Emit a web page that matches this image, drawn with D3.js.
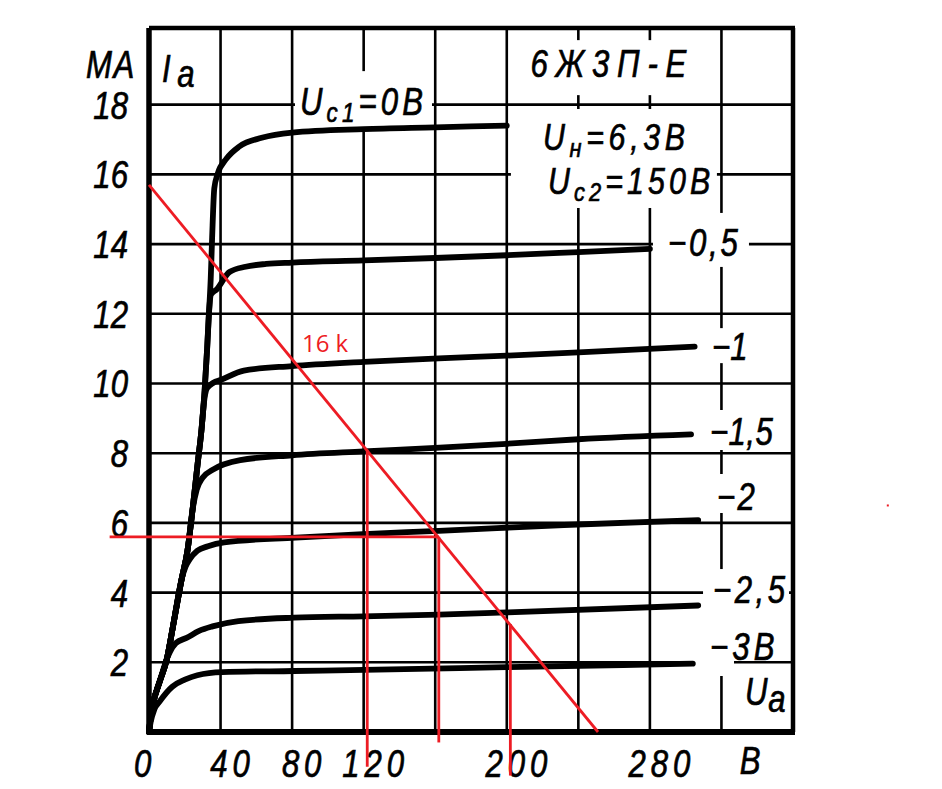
<!DOCTYPE html>
<html>

<head>
    <meta charset="utf-8">
    <title>6Ж3П-Е</title>
    <script src="https://d3js.org/d3.v7.min.js"></script>
    <style>
        body {
            margin: 0;
            background: #fff;
        }

        .grid line {
            stroke: #000;
            stroke-width: 2.6;
        }

        .mask {
            fill: #fff;
        }

        .curve {
            fill: none;
            stroke: #000;
            stroke-width: 5.8;
            stroke-linecap: round;
            stroke-linejoin: round;
        }

        /* drafting lettering: Arial-like italic squeezed to a narrow face */
        .lbl {
            font-family: "Liberation Sans", Arial, sans-serif;
            font-style: italic;
            font-size: 38px;
            fill: #000;
            stroke: #000;
            stroke-width: 0.7px;
        }

        .red {
            fill: none;
            stroke: #ed1c24;
            stroke-width: 2.8;
        }

        .red-label {
            font-family: "Open Sans", sans-serif;
            font-size: 24px;
            fill: #ed1c24;
        }
    </style>
</head>

<body>
    <div id="graph"></div>
    <script>
        // anode characteristics Ia = f(Ua), pairs [Ua in V, Ia in mA]
        const curve0 = [[0, 0], [1, 0.45], [2.2, 0.8], [6, 1.45], [10, 2.1], [13.3, 3.0], [18.3, 4.4], [21.5, 5.2], [24.4, 6.4],
            [27.2, 7.7], [29.4, 8.7], [31.1, 9.8], [32.5, 11.0], [33.5, 12.0], [34.5, 13.0], [35.3, 14.2], [36.5, 15.6],
            [38.3, 16.0], [43.3, 16.45], [50.5, 16.8], [63, 17.05], [80, 17.2], [120, 17.3], [160, 17.35], [200, 17.4]];
        const curveM05 = [[0, 0], [1, 0.45], [2.2, 0.8], [6, 1.45], [10, 2.1], [13.3, 3.0], [18.3, 4.4], [21.5, 5.2], [24.4, 6.4],
            [27.2, 7.7], [29.4, 8.7], [31.1, 9.8], [32.5, 11.0], [33.5, 12.0], [34.6, 12.55], [37.8, 12.7], [45, 13.2],
            [54, 13.35], [65.5, 13.43], [80, 13.47], [120, 13.53], [160, 13.6], [200, 13.68], [240, 13.77], [280, 13.86]];
        const curveM1 = [[0, 0], [1, 0.45], [2.2, 0.8], [6, 1.45], [10, 2.1], [13.3, 3.0], [18.3, 4.4], [21.5, 5.2], [24.4, 6.4],
            [27.2, 7.7], [29.4, 8.7], [30.6, 9.4], [32.4, 9.86], [36, 10.02], [40, 10.1], [53, 10.37], [80, 10.5],
            [120, 10.62], [162, 10.72], [200, 10.8], [243, 10.9], [305, 11.06]];
        const curveM15 = [[0, 0], [1, 0.45], [2.2, 0.8], [6, 1.45], [10, 2.1], [13.3, 3.0], [18.3, 4.4], [21.5, 5.2], [24.4, 6.4],
            [26.7, 6.96], [30, 7.3], [35.5, 7.52], [51, 7.8], [80, 7.94], [120, 8.05], [160, 8.15], [200, 8.27],
            [240, 8.4], [303, 8.54]];
        const curveM2 = [[0, 0], [1, 0.45], [2.2, 0.8], [6, 1.45], [10, 2.1], [13.3, 3.0], [18.3, 4.4], [20.5, 4.75],
            [22.8, 4.96], [27, 5.2], [33, 5.33], [42, 5.44], [82, 5.58], [120, 5.68], [162, 5.77], [232, 5.94], [307, 6.08]];
        const curveM25 = [[0, 0], [1, 0.45], [2.2, 0.8], [6, 1.45], [10, 2.1], [11.7, 2.3], [15, 2.55], [21, 2.7], [28, 2.9],
            [35.5, 3.03], [50, 3.18], [81, 3.28], [120, 3.32], [162, 3.37], [200, 3.43], [307, 3.63]];
        const curveM3 = [[0, 0], [1, 0.3], [3, 0.65], [6, 0.88], [13, 1.3], [20, 1.5], [27, 1.63], [41, 1.72], [81, 1.75],
            [120, 1.78], [200, 1.86], [304, 1.96]];
        const curves = [curve0, curveM05, curveM1, curveM15, curveM2, curveM25, curveM3];

        // grid and ticks
        const uaMax = 360;
        const iaMax = 20.2;   // top edge of the printed frame
        const gridVoltages = [40, 80, 120, 160, 200, 240, 280, 320];
        const gridCurrents = [2, 4, 6, 8, 10, 12, 14, 16, 18];
        const xTickValues = [0, 40, 80, 120, 200, 280];
        const yTickValues = [2, 4, 6, 8, 10, 12, 14, 16, 18];

        // red load line (16 k) added on top of the sheet
        const loadLine = [[0, 15.7], [251, 0]];
        const opVoltages = [122, 162, 202];
        const opCurrents = [8.1, 5.6, 3.1];
        const opBottoms = [-1.0, -0.3, -1.25];
        const opLevel = [[-22, 5.6], [162, 5.6]];
        const strayDot = [[413, 6.5]];

        const margin = { top: 28, right: 149, bottom: 57, left: 149 },
            width = 942 - margin.left - margin.right,
            height = 789 - margin.top - margin.bottom;
        const squeeze = 0.82;

        const x = d3.scaleLinear().domain([0, uaMax]).range([0, width]);
        const y = d3.scaleLinear().domain([0, iaMax]).range([height, 0]);

        const svg = d3.select("#graph").append("svg")
            .attr("width", 942)
            .attr("height", 789)
            .style("display", "block");

        const g = svg.append("g")
            .attr("transform", "translate(" + margin.left + "," + margin.top + ")");

        // grid
        const grid = g.append("g").attr("class", "grid");
        grid.selectAll(".v").data(gridVoltages).enter().append("line")
            .attr("x1", d => x(d)).attr("x2", d => x(d))
            .attr("y1", y(0)).attr("y2", y(iaMax));
        grid.selectAll(".h").data(gridCurrents).enter().append("line")
            .attr("x1", x(0)).attr("x2", x(uaMax))
            .attr("y1", d => y(d)).attr("y2", d => y(d));

        // labels of the sheet: anchor in data units, white patch (px) relative to the anchor
        // "_" = small subscript, "~" = full size, set a little lower
        const labels = [
            { parts: ["6Ж3П-Е"], ua: 259, ia: 18.79, anchor: "middle", ls: 9.5, mask: [-100, -37, 106, 18] },
            { parts: ["U", "_н", "=6,3В"], ua: 220.2, ia: 16.7, ls: 5.7, size: 37, mask: [-32, -41, 174, 58] },
            { parts: ["U", "_с2", "=150В"], ua: 223, ia: 15.44, ls: 5, size: 37 },
            { parts: ["U", "_с1", "=0В"], ua: 84.4, ia: 17.7, ls: 5, mask: [-5, -44, 132, 12] },
            { parts: ["−0,5"], ua: 290.1, ia: 13.66, ls: 3.4, mask: [-15, -43, 81, 11] },
            { parts: ["−1"], ua: 314.7, ia: 10.67, ls: 0, mask: [0, -32, 22, 3] },
            { parts: ["−1,5"], ua: 313.6, ia: 8.235, ls: 0.5, mask: [0, -35, 24, 5] },
            { parts: ["−2"], ua: 317.5, ia: 6.37, ls: 3, mask: [-8, -36, 14, 3] },
            { parts: ["−2,5"], ua: 315.3, ia: 3.7, ls: 4.3, mask: [-10, -34, 76, 4] },
            { parts: ["−3В"], ua: 313.6, ia: 2.066, ls: 5, mask: [-20, -53, 24, 16] },
            { parts: ["U", "~а"], ua: 333.2, ia: 0.775, ls: 1, sub: 7 },
            { parts: ["I", "~а"], ua: 7.3, ia: 18.65, ls: 8, sub: 5 }
        ];

        const masks = g.append("g");
        labels.filter(d => d.mask).forEach(d => {
            const ax = x(d.ua), ay = y(d.ia);
            masks.append("rect").attr("class", "mask")
                .attr("x", ax + d.mask[0]).attr("y", ay + d.mask[1])
                .attr("width", d.mask[2] - d.mask[0]).attr("height", d.mask[3] - d.mask[1]);
        });

        // frame
        g.append("line").attr("stroke", "#000").attr("stroke-width", 5.5)
            .attr("x1", x(0)).attr("x2", x(0)).attr("y1", y(0) + 2.5).attr("y2", y(iaMax));
        g.append("line").attr("stroke", "#000").attr("stroke-width", 6)
            .attr("x1", x(0)).attr("x2", x(uaMax) + 2).attr("y1", y(0)).attr("y2", y(0));
        g.append("line").attr("stroke", "#000").attr("stroke-width", 4.5)
            .attr("x1", x(0)).attr("x2", x(uaMax) + 2).attr("y1", y(iaMax)).attr("y2", y(iaMax));
        g.append("line").attr("stroke", "#000").attr("stroke-width", 4.5)
            .attr("x1", x(uaMax)).attr("x2", x(uaMax)).attr("y1", y(iaMax)).attr("y2", y(0));

        // characteristics
        const line = d3.line()
            .x(d => x(d[0]))
            .y(d => y(d[1]))
            .curve(d3.curveMonotoneX);

        g.append("g").selectAll("path").data(curves).enter().append("path")
            .attr("class", "curve")
            .attr("d", line);

        function addText(parts, px, py, opts) {
            const t = g.append("text").attr("class", "lbl")
                .attr("transform", "translate(" + px + "," + py + ") scale(" + squeeze + ",1)")
                .attr("text-anchor", opts.anchor || "start")
                .style("letter-spacing", (opts.ls || 0) + "px");
            if (opts.size) t.style("font-size", opts.size + "px");
            const drop = opts.sub || 7;
            let shift = 0;
            parts.forEach(p => {
                const isSub = p.startsWith("_"), isLow = p.startsWith("~");
                const s = t.append("tspan").text(isSub || isLow ? p.slice(1) : p);
                const want = isSub || isLow ? drop : 0;
                if (want !== shift) { s.attr("dy", want - shift); shift = want; }
                if (isSub) s.attr("font-size", "0.72em");
            });
            return t;
        }

        labels.forEach(d => addText(d.parts, x(d.ua), y(d.ia), d));

        // tick labels
        xTickValues.forEach(v => addText([String(v)], x(v) + (v === 0 ? -4 : 12), y(0) + 45, { anchor: "middle", ls: 6 }));
        yTickValues.forEach(v => addText([String(v)], x(0) - 21, y(v) + 14, { anchor: "end" }));
        addText(["МА"], x(0) - 13, y(18) - 27, { anchor: "end", ls: 2 });
        addText(["В"], x(336), y(0) + 42, { anchor: "middle" });

        // red overlay
        const red = g.append("g");
        red.append("path").attr("class", "red").attr("d", d3.line().x(d => x(d[0])).y(d => y(d[1]))(loadLine));
        red.append("path").attr("class", "red").attr("d", d3.line().x(d => x(d[0])).y(d => y(d[1]))(opLevel));
        red.selectAll(".op").data(opVoltages).enter().append("line")
            .attr("class", "red")
            .attr("x1", d => x(d)).attr("x2", d => x(d))
            .attr("y1", (d, i) => y(opCurrents[i]))
            .attr("y2", (d, i) => y(opBottoms[i]));
        red.selectAll(".dot").data(strayDot).enter().append("rect")
            .attr("x", d => x(d[0]) - 1).attr("y", d => y(d[1]) - 1)
            .attr("width", 2).attr("height", 2).attr("fill", "#ed1c24");
        red.append("text").attr("class", "red-label")
            .attr("x", x(85.5)).attr("y", y(10.9))
            .text("16 k");
    </script>
</body>

</html>
